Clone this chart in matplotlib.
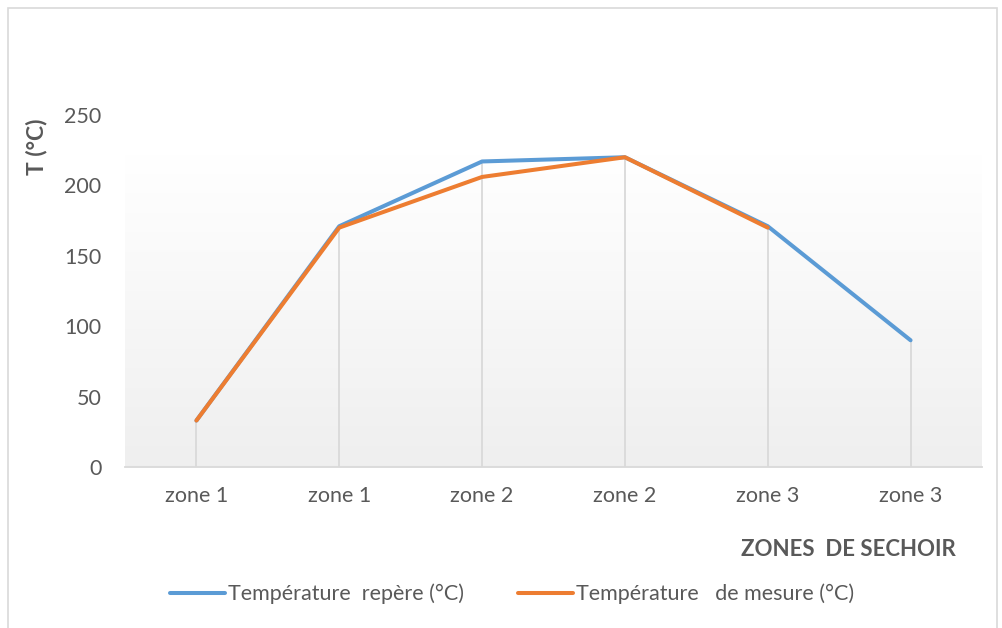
import matplotlib
matplotlib.use("Agg")
import matplotlib.pyplot as plt
import numpy as np
from matplotlib.patches import Rectangle

categories = ["zone 1", "zone 1", "zone 2", "zone 2", "zone 3", "zone 3"]
repere = [33, 171, 217, 220, 171, 90]
mesure = [33, 170, 206, 220, 170]
yticks = [0, 50, 100, 150, 200, 250]

plt.rcParams['font.family'] = ['Lato', 'DejaVu Sans']
txt = "#595959"

W, H = 1003, 628
fig = plt.figure(figsize=(W/100, H/100), dpi=100)
fig.patches.append(Rectangle((8/W, -0.1), (997-8)/W, 1.1 - 8/H, transform=fig.transFigure,
                             fill=False, edgecolor="#d9d9d9", linewidth=1.2))

ax = fig.add_axes([125/W, 1-467/H, (982-125)/W, (467-115)/H])
x = np.arange(len(categories))
ax.set_xlim(-0.5, len(categories)-0.5)

# gradient plot area background
grad = np.linspace(0, 1, 256).reshape(-1, 1)
top = np.array([1.0, 1.0, 1.0])
bot = np.array([0.937, 0.937, 0.937])
img = top[None, None, :] * (1 - grad[..., None]) + bot[None, None, :] * grad[..., None]
ax.imshow(img, extent=(-0.5, len(categories)-0.5, 0, 222), aspect='auto', zorder=0, origin='upper')
ax.set_ylim(0, 250)

for xi, v in zip(x, repere):
    ax.plot([xi, xi], [0, v], color="#d9d9d9", lw=1.3, zorder=1)

ax.plot(x, repere, color="#5b9bd5", lw=2.9, solid_capstyle='round', zorder=3,
        label="Température  repère (°C)")
ax.plot(x[:len(mesure)], mesure, color="#ed7d31", lw=2.9, solid_capstyle='round', zorder=4,
        label="Température   de mesure (°C)")

for s in ["top", "right", "left"]:
    ax.spines[s].set_visible(False)
ax.spines["bottom"].set_color("#d9d9d9")
ax.spines["bottom"].set_linewidth(1.3)
ax.set_xticks(x)
ax.set_xticklabels(categories)
ax.set_yticks(yticks)
ax.tick_params(axis='both', length=0, labelsize=15.5, colors=txt)
ax.tick_params(axis='x', pad=14)
ax.tick_params(axis='y', pad=17)

fig.text(37/W, 1-147/H, "T (°C)", rotation=90, ha='center', va='center',
         fontsize=16.5, fontweight='bold', color=txt)
fig.text(848/W, 1-549/H, "ZONES  DE SECHOIR", ha='center', va='center',
         fontsize=16, fontweight='bold', color=txt)

h, l = ax.get_legend_handles_labels()
fig.legend(h, l, loc='center', bbox_to_anchor=(512/W, 1-594/H), ncol=2, frameon=False,
           fontsize=15.5, labelcolor=txt, handlelength=2.55, handletextpad=0.15, columnspacing=2.5)

fig.savefig("out.png", dpi=100, facecolor="white")
